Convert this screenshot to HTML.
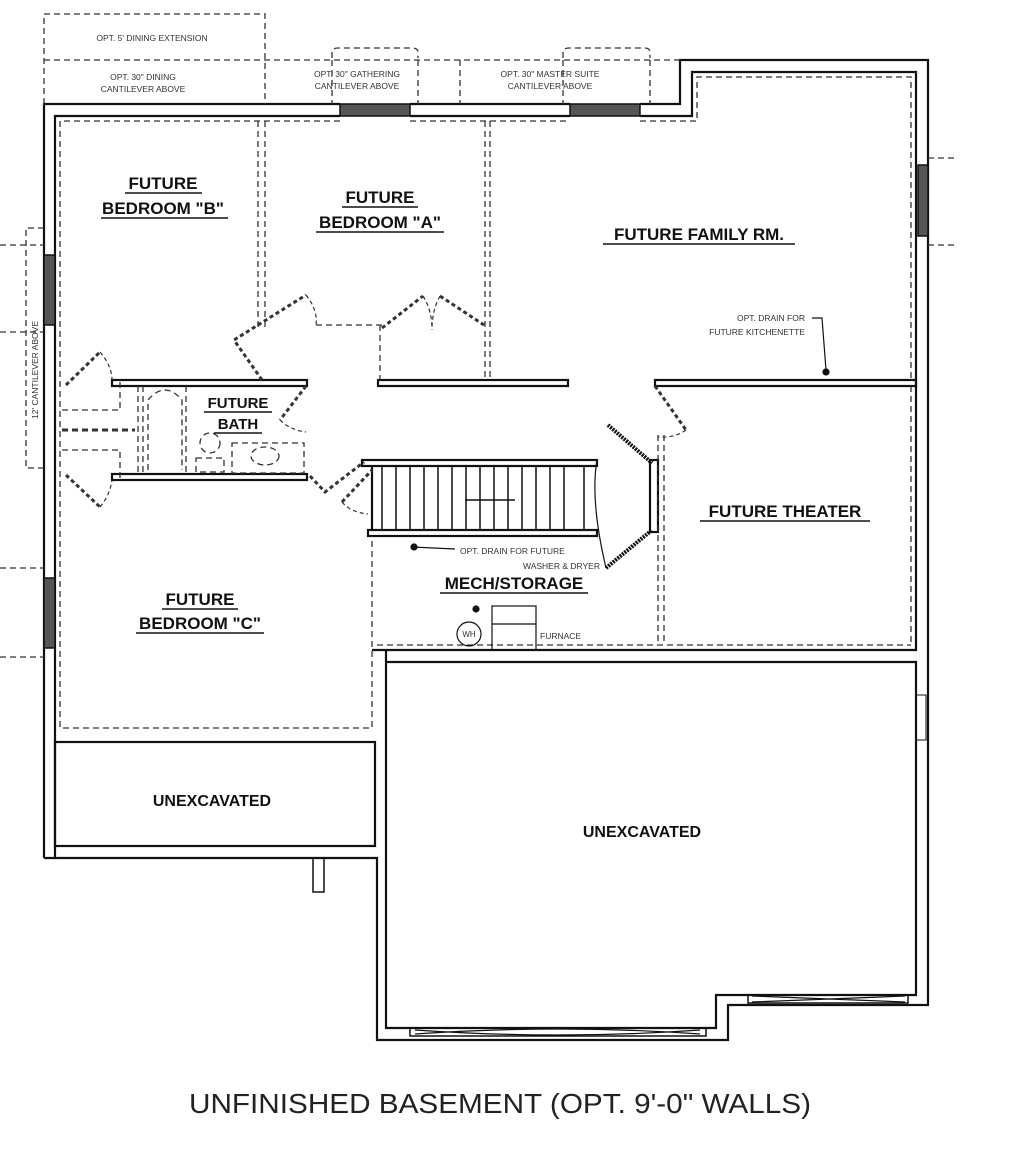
<!DOCTYPE html>
<html><head><meta charset="utf-8"><style>
html,body{margin:0;padding:0;background:#fff;}
svg{display:block;}
.b{font-family:"Liberation Sans",sans-serif;font-weight:bold;fill:#111;text-anchor:middle;}
.s{font-family:"Liberation Sans",sans-serif;fill:#333;font-size:8.5px;text-anchor:middle;}
</style></head><body>
<svg width="1024" height="1160" viewBox="0 0 1024 1160" xmlns="http://www.w3.org/2000/svg">
<g fill="none" stroke="#111" stroke-width="2.2">
<!-- outer walls -->
<polyline points="44,858 44,104 340,104"/>
<polyline points="55,742 55,116 340,116"/>
<polyline points="410,104 570,104"/><polyline points="410,116 570,116"/>
<polyline points="640,104 680,104 680,60 928,60 928,1005 748,1005 728,1005 728,1040 377,1040 377,858 44,858"/>
<polyline points="640,116 692,116 692,72 916,72 916,650 372,650"/>
<!-- windows -->
<rect x="340" y="104" width="70" height="12" fill="#555" stroke-width="1.5"/>
<rect x="570" y="104" width="70" height="12" fill="#555" stroke-width="1.5"/>
<rect x="918" y="165" width="10" height="71" fill="#555" stroke-width="1.5"/>
<rect x="44" y="255" width="11" height="70" fill="#555" stroke-width="1.5"/>
<rect x="44" y="578" width="11" height="70" fill="#555" stroke-width="1.5"/>
<!-- garage -->
<polyline points="386,662 916,662 916,995 716,995 716,1028 386,1028 386,662"/>
<line x1="386" y1="650" x2="386" y2="662"/>
<rect x="410" y="1028" width="296" height="8" stroke-width="1.5"/>
<path d="M415 1030 Q560 1040 700 1030 M415 1034 Q560 1024 700 1034" stroke-width="1.2"/>
<rect x="748" y="995" width="160" height="8" stroke-width="1.5"/>
<path d="M752 996 L905 1002 M752 1002 L905 996" stroke-width="1.2"/>
<rect x="916" y="695" width="10" height="45" stroke-width="1"/>
<!-- unexcavated small -->
<rect x="55" y="742" width="320" height="104"/>
<line x1="55" y1="742" x2="55" y2="858"/>
<rect x="313" y="858" width="11" height="34" stroke-width="1.5"/>
<!-- interior walls -->
<rect x="112" y="380" width="195" height="6"/>
<rect x="112" y="474" width="195" height="6"/>
<rect x="378" y="380" width="190" height="6"/>
<rect x="655" y="380" width="261" height="6"/>
<rect x="362" y="460" width="235" height="6"/>
<rect x="368" y="530" width="229" height="6"/>
<rect x="650" y="460" width="8" height="72"/>
<line x1="372" y1="466" x2="372" y2="530"/>
</g>
<!-- stair treads -->
<g stroke="#111" stroke-width="1.5">
<line x1="382" y1="466" x2="382" y2="530"/><line x1="396" y1="466" x2="396" y2="530"/><line x1="410" y1="466" x2="410" y2="530"/><line x1="424" y1="466" x2="424" y2="530"/><line x1="438" y1="466" x2="438" y2="530"/><line x1="452" y1="466" x2="452" y2="530"/><line x1="466" y1="466" x2="466" y2="530"/><line x1="480" y1="466" x2="480" y2="530"/><line x1="494" y1="466" x2="494" y2="530"/><line x1="508" y1="466" x2="508" y2="530"/><line x1="522" y1="466" x2="522" y2="530"/><line x1="536" y1="466" x2="536" y2="530"/><line x1="550" y1="466" x2="550" y2="530"/><line x1="564" y1="466" x2="564" y2="530"/><line x1="584" y1="466" x2="584" y2="530"/>
<line x1="465" y1="500" x2="515" y2="500"/>
</g>
<path d="M597 460 Q590 500 606 568" fill="none" stroke="#111" stroke-width="1.2"/>
<path d="M608 425 L652 463 M606 568 L652 530" stroke="#111" stroke-width="4" stroke-dasharray="2 1"/>
<!-- dashed lines -->
<g fill="none" stroke="#333" stroke-width="1.3" stroke-dasharray="6 4">
<polyline points="44,104 44,14 265,14 265,104"/>
<line x1="44" y1="60" x2="680" y2="60"/>
<line x1="332" y1="60" x2="332" y2="104"/><line x1="418" y1="60" x2="418" y2="104"/>
<path d="M332 58 L332 52 Q332 48 338 48 L412 48 Q418 48 418 52 L418 58"/>
<line x1="460" y1="60" x2="460" y2="104"/>
<line x1="563" y1="60" x2="563" y2="104"/><line x1="650" y1="60" x2="650" y2="104"/>
<path d="M563 58 L563 52 Q563 48 569 48 L644 48 Q650 48 650 52 L650 58"/>
<polyline points="340,121 60,121 60,728 372,728 372,536"/>
<polyline points="410,121 570,121"/>
<polyline points="640,121 697,121 697,77 911,77 911,380"/>
<line x1="911" y1="386" x2="911" y2="645"/>
<polyline points="377,645 911,645"/>
<line x1="258" y1="121" x2="258" y2="328"/><line x1="265" y1="121" x2="265" y2="328"/>
<line x1="485" y1="121" x2="485" y2="380"/><line x1="490" y1="121" x2="490" y2="380"/>
<polyline points="316,325 382,325"/>
<polyline points="380,325 380,380 M386,330 386,380 M386,362 482,362"/>
<line x1="658" y1="435" x2="658" y2="645"/><line x1="664" y1="435" x2="664" y2="645"/>
<line x1="0" y1="245" x2="44" y2="245"/><line x1="0" y1="332" x2="44" y2="332"/>
<line x1="0" y1="568" x2="44" y2="568"/><line x1="0" y1="657" x2="44" y2="657"/>
<line x1="928" y1="158" x2="955" y2="158"/><line x1="928" y1="245" x2="955" y2="245"/>
<polyline points="44,228 26,228 26,468 44,468"/>
<!-- bath fixtures -->
<polyline points="62,410 120,410 120,380"/><polyline points="62,450 120,450 120,480"/>
<line x1="62" y1="430" x2="135" y2="430" stroke-width="3"/>
<line x1="138" y1="386" x2="138" y2="474"/><line x1="143" y1="386" x2="143" y2="474"/>
<path d="M148 470 L148 400 Q165 380 182 400 L182 470"/>
<line x1="186" y1="386" x2="186" y2="474"/>
<rect x="232" y="443" width="72" height="30"/>
<ellipse cx="265" cy="456" rx="14" ry="9"/>
<circle cx="210" cy="443" r="10"/>
<rect x="196" y="458" width="28" height="14"/>
</g>
<!-- door swings -->
<g fill="none" stroke="#333" stroke-width="3" stroke-dasharray="4 3">
<path d="M66 385 L100 352"/><path d="M66 475 L100 507"/>
<path d="M262 380 L234 340 L306 295"/>
<path d="M306 386 L280 420"/><path d="M310 476 L325 492 L364 462"/>
<path d="M342 502 L372 470"/>
<path d="M382 328 L423 296 M440 296 L484 325"/>
<path d="M655 386 L686 430"/>
</g>
<g fill="none" stroke="#333" stroke-width="1.2" stroke-dasharray="4 3">
<path d="M100 352 Q112 366 112 380"/><path d="M100 507 Q110 495 112 480"/>
<path d="M306 295 Q318 310 316 325"/><path d="M280 420 Q290 430 306 432"/>
<path d="M342 502 Q350 512 368 514"/><path d="M423 296 Q432 310 432 330 M440 296 Q432 310 432 330"/>
<path d="M686 430 Q675 438 658 437"/>
</g>
<!-- drains, WH, furnace -->
<g stroke="#111" stroke-width="1.2" fill="none">
<path d="M812 318 L822 318 L826 370"/><circle cx="826" cy="372" r="3" fill="#111"/>
<line x1="412" y1="547" x2="455" y2="549"/><circle cx="414" cy="547" r="3" fill="#111"/>
<circle cx="469" cy="634" r="12"/><circle cx="476" cy="609" r="3" fill="#111"/>
<rect x="492" y="606" width="44" height="44"/><line x1="492" y1="624" x2="536" y2="624"/>
</g>
<!-- labels -->
<g class="b" font-size="17">
<text x="163" y="189">FUTURE</text><text x="163" y="214">BEDROOM "B"</text>
<text x="380" y="203">FUTURE</text><text x="380" y="228">BEDROOM "A"</text>
<text x="699" y="240">FUTURE FAMILY RM.</text>
<text x="785" y="517">FUTURE THEATER</text>
<text x="514" y="589">MECH/STORAGE</text>
<text x="200" y="605">FUTURE</text><text x="200" y="629">BEDROOM "C"</text>
<text x="212" y="806" font-size="16">UNEXCAVATED</text>
<text x="642" y="837" font-size="16">UNEXCAVATED</text>
<text x="238" y="408" font-size="15">FUTURE</text><text x="238" y="429" font-size="15">BATH</text>
</g>
<g stroke="#111" stroke-width="1.5">
<line x1="125" y1="193" x2="202" y2="193"/><line x1="101" y1="218" x2="228" y2="218"/>
<line x1="342" y1="207" x2="418" y2="207"/><line x1="316" y1="232" x2="444" y2="232"/>
<line x1="603" y1="244" x2="795" y2="244"/><line x1="700" y1="521" x2="870" y2="521"/>
<line x1="440" y1="593" x2="588" y2="593"/>
<line x1="162" y1="609" x2="238" y2="609"/><line x1="136" y1="633" x2="264" y2="633"/>
<line x1="204" y1="412" x2="272" y2="412"/><line x1="214" y1="433" x2="262" y2="433"/>
</g>
<g class="s">
<text x="152" y="41">OPT. 5' DINING EXTENSION</text>
<text x="143" y="80">OPT. 30" DINING</text><text x="143" y="92">CANTILEVER ABOVE</text>
<text x="357" y="77">OPT. 30" GATHERING</text><text x="357" y="89">CANTILEVER ABOVE</text>
<text x="550" y="77">OPT. 30" MASTER SUITE</text><text x="550" y="89">CANTILEVER ABOVE</text>
<text x="805" y="321" text-anchor="end">OPT. DRAIN FOR</text><text x="805" y="335" text-anchor="end">FUTURE KITCHENETTE</text>
<text x="460" y="554" text-anchor="start">OPT. DRAIN FOR FUTURE</text><text x="600" y="569" text-anchor="end">WASHER &amp; DRYER</text>
<text x="540" y="639" text-anchor="start">FURNACE</text>
<text x="469" y="637" font-size="8">WH</text>
<text x="0" y="0" transform="translate(38,370) rotate(-90)">12' CANTILEVER ABOVE</text>
</g>
<text x="500" y="1113" font-family="Liberation Sans,sans-serif" font-size="28" fill="#222" text-anchor="middle" textLength="622" lengthAdjust="spacingAndGlyphs">UNFINISHED BASEMENT (OPT. 9'-0" WALLS)</text>
</svg>
</body></html>
